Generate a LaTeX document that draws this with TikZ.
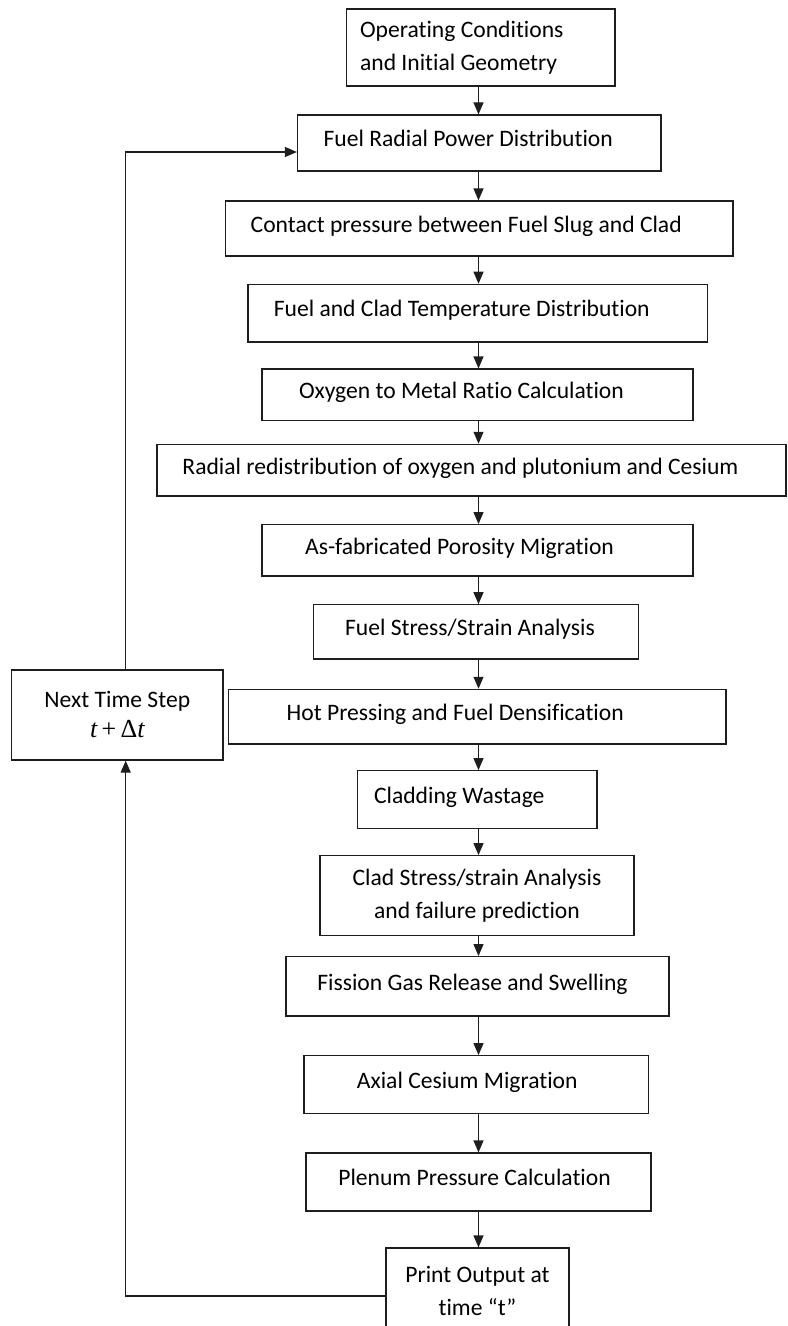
\documentclass[tikz,border=0pt]{standalone}
\usepackage{fontspec}
\setmainfont{Carlito}[Ligatures={NoCommon,NoContextual}]
\newfontfamily\tnr{Liberation Serif}
\usepackage{tikz}
\usetikzlibrary{arrows.meta,positioning}
\definecolor{ink}{RGB}{30,30,30}

\begin{document}
\begin{tikzpicture}[x=0.5pt,y=-0.5pt,
    box/.style={draw=ink,line width=0.6pt,align=center,inner sep=0pt,
      font=\fontsize{11.8}{16.5}\selectfont},
    sz/.style 2 args={minimum width=#1*0.5pt,minimum height=#2*0.5pt},
    one/.style={text height=8.5pt,text depth=4.7pt},
    tx/.style={execute at end node={\kern#1pt}},
    flow/.style={draw=ink,line width=0.6pt,-{Triangle[length=6pt,width=5pt]}}]
  \useasboundingbox (0,0) rectangle (787,1326);
  \node[box,sz={268.5}{77},align=left,tx=19] (op) at (480.75,47.5) {Operating Conditions\\and Initial Geometry};
  \node[box,one,sz={363.5}{56},tx=11] (frpd) at (479.25,143) {Fuel Radial Power Distribution};
  \node[box,one,sz={507.5}{55},tx=13] (contact) at (479.25,228.5) {Contact pressure between Fuel Slug and Clad};
  \node[box,one,sz={459.5}{57.7},tx=16] (temp) at (477.75,313.2) {Fuel and Clad Temperature Distribution};
  \node[box,one,sz={431}{51.7},tx=16] (oxy) at (477.5,394.9) {Oxygen to Metal Ratio Calculation};
  \node[box,one,sz={629}{51.7},tx=11] (radial) at (471.5,470.2) {Radial redistribution of oxygen and plutonium and Cesium};
  \node[box,one,sz={431}{51.3},tx=18] (asfab) at (477.5,550.3) {As-fabricated Porosity Migration};
  \node[box,one,sz={325}{54.3},tx=6] (fss) at (476,631.9) {Fuel Stress/Strain Analysis};
  \node[box,one,sz={497.5}{54.7},tx=22] (hot) at (477.25,716.7) {Hot Pressing and Fuel Densification};
  \node[box,one,sz={239.5}{58},tx=18] (waste) at (477.25,799.7) {Cladding Wastage};
  \node[box,sz={314}{79.6}] (css) at (477,895.5) {Clad Stress/strain Analysis\\and failure prediction};
  \node[box,one,sz={383}{59.3},tx=5] (fgr) at (477.5,986.3) {Fission Gas Release and Swelling};
  \node[box,one,sz={344.5}{57.6},tx=9] (axial) at (476.25,1084.5) {Axial Cesium Migration};
  \node[box,one,sz={345}{58},tx=4] (plenum) at (478.5,1182) {Plenum Pressure Calculation};
  \node[box,sz={183}{86}] (print) at (477.5,1291) {Print Output at\\time “t”};
  \node[box,sz={211.3}{90}] (next) at (117.3,715)
    {Next Time Step\\[-1.5pt]{\tnr\fontsize{13}{15}\selectfont\itshape t\,\upshape+\,Δ\itshape t}};
  \coordinate (spine) at (478.5,0);
  \coordinate (loopx) at (125.7,0);
  \coordinate (outy) at (0,1296);
  \coordinate (iny) at (0,152);
  \foreach \a/\b in {op/frpd,frpd/contact,contact/temp,temp/oxy,oxy/radial,radial/asfab,asfab/fss,
      fss/hot,hot/waste,waste/css,css/fgr,fgr/axial,axial/plenum,plenum/print}
    \draw[flow] (\a.south -| spine) -- (\b.north -| spine);
  \draw[flow] (print.west |- outy) -| (next.south -| loopx);
  \draw[flow] (next.north -| loopx) |- (frpd.west |- iny);
\end{tikzpicture}
\end{document}
